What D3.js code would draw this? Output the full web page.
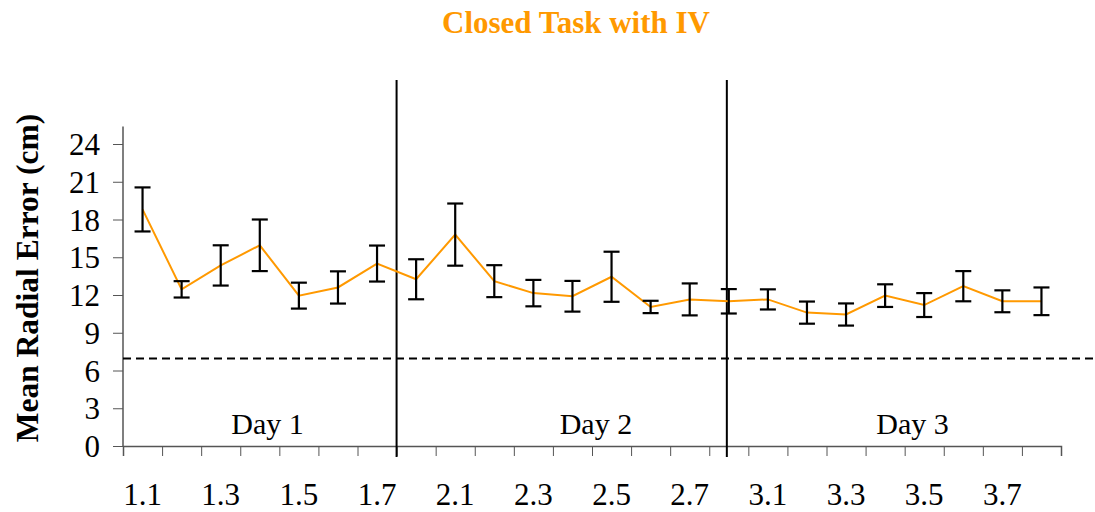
<!DOCTYPE html>
<html>
	<head>
		<meta charset="utf-8">
		<script type="text/javascript" src="https://cdn.jsdelivr.net/npm/d3@7/dist/d3.min.js"></script>
		<style>
			body{ margin:0; background:#fff; }
			svg{ font-family:"Liberation Serif","Times New Roman",serif; }
			.axis path, .axis line{ stroke:#555; }
			.axis text{ font-size:31px; fill:#000; font-family:"Liberation Serif","Times New Roman",serif; }
		</style>
	</head>
	<body>
		<div id="container"></div>
		<script type="text/javascript">

			// categories (session.trial)
			var categories = ["1.1","1.2","1.3","1.4","1.5","1.6","1.7","1.8",
				"2.1","2.2","2.3","2.4","2.5","2.6","2.7","2.8",
				"3.1","3.2","3.3","3.4","3.5","3.6","3.7","3.8"];

			// mean radial error (cm)
			var means = [18.8, 12.45, 14.35, 15.95, 11.95, 12.6, 14.5, 13.25,
				16.8, 13.1, 12.15, 11.9, 13.45, 11.05, 11.65, 11.5,
				11.65, 10.6, 10.45, 11.95, 11.2, 12.7, 11.5, 11.5];

			// error bar half length
			var errors = [1.75, 0.65, 1.6, 2.05, 1.03, 1.28, 1.43, 1.59,
				2.47, 1.27, 1.05, 1.22, 1.99, 0.49, 1.27, 0.97,
				0.8, 0.88, 0.88, 0.9, 0.95, 1.2, 0.87, 1.1];

			var yTicks = [0, 3, 6, 9, 12, 15, 18, 21, 24];
			var days = ["Day 1", "Day 2", "Day 3"];
			var dayCenters = [3.7, 12.1, 20.2];   // in category units
			var dividers = [7.0, 15.45];          // in category units
			var reference = 6.95;

			var width = 1095, height = 512;

			var svg = d3.select("#container").append("svg")
				.attr("width", width)
				.attr("height", height);

			var x = d3.scaleBand()
				.domain(categories)
				.range([123, 1061])
				.padding(0);

			// continuous position on the category axis
			var xi = d3.scaleLinear()
				.domain([0, categories.length])
				.range([123, 1061]);

			var y = d3.scaleLinear()
				.domain([0, 24])
				.range([446, 144]);

			// title
			svg.append("text")
				.attr("x", 576)
				.attr("y", 33)
				.attr("text-anchor", "middle")
				.style("font-size", "31px")
				.style("font-weight", "bold")
				.style("fill", "#ff9900")
				.text("Closed Task with IV");

			// y label
			svg.append("text")
				.attr("transform", "translate(38," + 278 + ") rotate(-90)")
				.attr("text-anchor", "middle")
				.style("font-size", "31.5px")
				.style("font-weight", "bold")
				.text("Mean Radial Error (cm)");

			// y axis
			var yAxis = d3.axisLeft(y).tickValues(yTicks).tickSize(10).tickPadding(13);
			var gy = svg.append("g")
				.attr("class", "axis")
				.attr("transform", "translate(123,0)")
				.call(yAxis);
			gy.select(".domain").remove();
			gy.selectAll("text").attr("dy", "0.34em");
			gy.append("line")
				.attr("x1", 0).attr("x2", 0)
				.attr("y1", y(0)).attr("y2", y(25.4))
				.attr("stroke", "#777").attr("stroke-width", 1.5);

			// x axis: ticks at category edges
			var gx = svg.append("g")
				.attr("class", "axis")
				.attr("transform", "translate(0," + y(0) + ")")
				.call(d3.axisBottom(xi).tickValues(d3.range(categories.length + 1)).tickSize(10).tickFormat(""));
			gx.select(".domain").attr("stroke", "#555").attr("stroke-width", 1.5);

			// x labels, every second category
			var gl = svg.append("g")
				.attr("class", "axis")
				.attr("transform", "translate(0," + y(0) + ")")
				.call(d3.axisBottom(x)
					.tickValues(categories.filter(function(d, i){ return i % 2 === 0; }))
					.tickSize(0)
					.tickPadding(37));
			gl.select(".domain").remove();

			// reference line
			svg.append("line")
				.attr("x1", 123).attr("x2", width)
				.attr("y1", y(reference)).attr("y2", y(reference))
				.attr("stroke", "#000")
				.attr("stroke-width", 2)
				.attr("stroke-dasharray", "8,5");

			// day dividers
			svg.selectAll(".divider").data(dividers).enter().append("line")
				.attr("class", "divider")
				.attr("x1", function(d){ return xi(d); })
				.attr("x2", function(d){ return xi(d); })
				.attr("y1", 80)
				.attr("y2", y(0) + 11)
				.attr("stroke", "#000")
				.attr("stroke-width", 2);

			// day labels
			svg.selectAll(".day").data(days).enter().append("text")
				.attr("class", "day")
				.attr("x", function(d, i){ return xi(dayCenters[i]); })
				.attr("y", 434)
				.attr("text-anchor", "middle")
				.style("font-size", "30px")
				.text(function(d){ return d; });

			var cx = function(d, i){ return x(categories[i]) + x.bandwidth() / 2; };

			// mean line
			var line = d3.line()
				.x(function(d, i){ return cx(d, i); })
				.y(function(d){ return y(d); });

			svg.append("path")
				.datum(means)
				.attr("d", line)
				.attr("fill", "none")
				.attr("stroke", "#ff9900")
				.attr("stroke-width", 2);

			// error bars
			var bars = svg.selectAll(".err").data(means).enter().append("g")
				.attr("class", "err")
				.attr("stroke", "#000")
				.attr("stroke-width", 2.2);

			bars.append("line")
				.attr("x1", cx).attr("x2", cx)
				.attr("y1", function(d, i){ return y(d + errors[i]); })
				.attr("y2", function(d, i){ return y(d - errors[i]); });
			bars.append("line")
				.attr("x1", function(d, i){ return cx(d, i) - 8; })
				.attr("x2", function(d, i){ return cx(d, i) + 8; })
				.attr("y1", function(d, i){ return y(d + errors[i]); })
				.attr("y2", function(d, i){ return y(d + errors[i]); });
			bars.append("line")
				.attr("x1", function(d, i){ return cx(d, i) - 8; })
				.attr("x2", function(d, i){ return cx(d, i) + 8; })
				.attr("y1", function(d, i){ return y(d - errors[i]); })
				.attr("y2", function(d, i){ return y(d - errors[i]); });

		</script>
	</body>
</html>
